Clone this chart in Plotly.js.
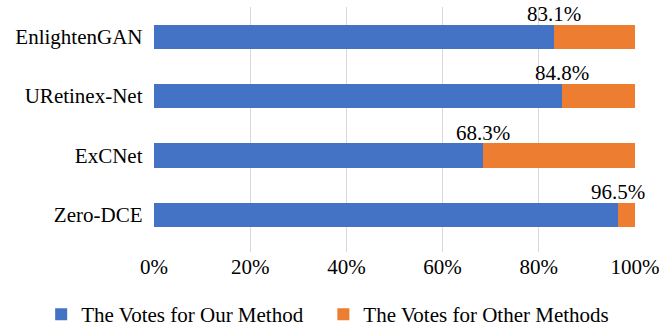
<!DOCTYPE html>
<html><head><meta charset="utf-8">
<script src="https://cdn.plot.ly/plotly-3.0.1.min.js"></script>
<style>
html,body{margin:0;padding:0;background:#fff}
#chart svg text{font-family:"Liberation Serif","Times New Roman",serif !important;}
</style>
</head><body><div id="chart" style="width:664px;height:326px"></div>
<script>
const categories = ["EnlightenGAN", "URetinex-Net", "ExCNet", "Zero-DCE"];
const oursValues = [83.1, 84.8, 68.3, 96.5];
const otherValues = [16.9, 15.2, 31.7, 3.5];
const seriesNames = ["The Votes for Our Method", "The Votes for Other Methods"];
const labels = ["83.1%", "84.8%", "68.3%", "96.5%"];
const tickVals = [0, 20, 40, 60, 80, 100];
const tickText = ["0%", "20%", "40%", "60%", "80%", "100%"];

const FAM = "Liberation Serif, Times New Roman, serif";
const F = () => ({family: FAM, size: 21, color: "#000000"});
const data = [
  {type: "bar", orientation: "h", name: seriesNames[0], y: categories, x: oursValues,
   marker: {color: "#4472C4"}, hoverinfo: "skip", legend: "legend"},
  {type: "bar", orientation: "h", name: seriesNames[1], y: categories, x: otherValues,
   marker: {color: "#ED7D31"}, hoverinfo: "skip", legend: "legend2"}
];
const annotations = categories.map((c, i) => ({
  x: oursValues[i], y: c, xref: "x", yref: "y", text: labels[i], showarrow: false,
  yshift: 23, font: F(), xanchor: "center", yanchor: "middle"
}));
const legBase = () => ({orientation: "h", xref: "container", yref: "container", xanchor: "left",
  y: 0.035, yanchor: "middle", font: F(), itemwidth: 30, bgcolor: "rgba(0,0,0,0)"});
const layout = {
  barmode: "stack", bargap: 0.59,
  width: 664, height: 326,
  margin: {l: 154, r: 29, t: 7, b: 74},
  paper_bgcolor: "#fff", plot_bgcolor: "#fff",
  font: F(),
  showlegend: true,
  legend: Object.assign(legBase(), {x: 0.062}),
  legend2: Object.assign(legBase(), {x: 0.487}),
  xaxis: {range: [0, 100], tickvals: tickVals, ticktext: tickText, showgrid: true,
          gridcolor: "#D9D9D9", gridwidth: 1, zeroline: false, showline: false, ticks: "",
          tickfont: F(), fixedrange: true},
  yaxis: {categoryorder: "array", categoryarray: categories, autorange: "reversed",
          showgrid: false, zeroline: false, showline: false, ticks: "", ticksuffix: "  ",
          tickfont: F(), fixedrange: true},
  annotations: annotations
};
Plotly.newPlot("chart", data, layout, {displayModeBar: false, staticPlot: true});
</script></body></html>
